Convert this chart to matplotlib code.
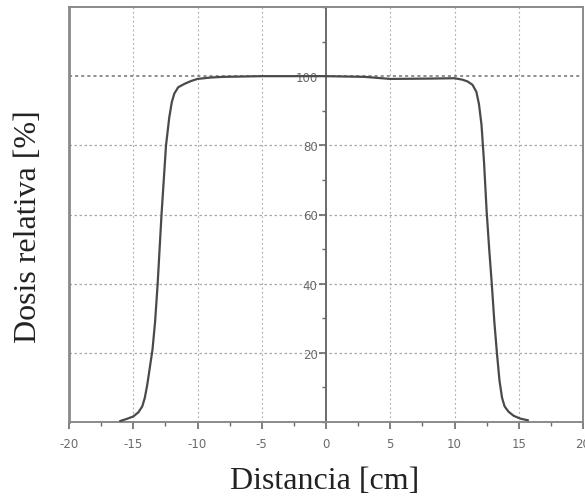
import numpy as np
import matplotlib.pyplot as plt
from matplotlib.ticker import MultipleLocator

# dose profile
distance_cm = [-16.0, -15.5, -15.0, -14.6, -14.3, -14.1, -13.9, -13.7, -13.5, -13.3,
               -13.1, -12.8, -12.45, -12.2, -12.0, -11.8, -11.5, -11.0, -10.5, -10.0,
               -9.0, -8.0, -5.0, 0.0, 3.0, 5.0, 8.0, 10.0, 10.6, 11.0,
               11.4, 11.7, 11.9, 12.1, 12.3, 12.5, 12.7, 12.9, 13.1, 13.3,
               13.5, 13.7, 13.9, 14.2, 14.6, 15.1, 15.7]
dose_pct = [0.3, 0.9, 1.6, 2.8, 4.5, 7.0, 11.0, 16.0, 21.0, 29.0,
            40.0, 60.0, 80.0, 88.0, 92.5, 95.0, 96.8, 97.8, 98.6, 99.2,
            99.6, 99.8, 100.0, 100.0, 99.8, 99.2, 99.3, 99.4, 99.0, 98.5,
            97.5, 95.5, 92.0, 86.0, 75.0, 61.0, 50.0, 40.0, 29.0, 20.0,
            12.0, 7.0, 4.5, 3.0, 1.8, 1.0, 0.5]

x_ticks = [-20, -15, -10, -5, 0, 5, 10, 15, 20]
y_ticks = [20, 40, 60, 80, 100]

SPINE = "#8a8a8a"
GRID = "#a8a8a8"
TXT = "#6a6a6a"

fig = plt.figure(figsize=(5.85, 5.02), dpi=100)
ax = fig.add_axes([69 / 585, 1 - 423 / 502, (583 - 69) / 585, (423 - 8) / 502])

ax.set_xlim(-20, 20)
ax.set_ylim(0, 120)

for xv in x_ticks[1:-1]:
    if xv != 0:
        ax.axvline(xv, color=GRID, lw=0.8, ls=(0, (1.5, 2.5)), zorder=1)
for yv in y_ticks:
    ax.axhline(yv, color=GRID if yv != 100 else "#707070", lw=0.9 if yv != 100 else 1.1,
               ls=(0, (2, 2)), zorder=1)

ax.plot(distance_cm, dose_pct, color="#4a4a4a", lw=1.6, zorder=3)

# box edges plus a centred y axis
ax.spines["left"].set_position(("data", 0))
ax.spines["left"].set_color("#6a6a6a")
ax.spines["left"].set_linewidth(1.4)
for side in ["top", "right", "bottom"]:
    ax.spines[side].set_color(SPINE)
    ax.spines[side].set_linewidth(1.4)
ax.axvline(-20, color=SPINE, lw=2.0, zorder=4, clip_on=False)

ax.set_xticks(x_ticks)
ax.set_xticklabels([str(v) for v in x_ticks])
ax.xaxis.set_minor_locator(MultipleLocator(2.5))
ax.set_yticks(y_ticks)
ax.yaxis.set_minor_locator(MultipleLocator(10))
ax.tick_params(axis="both", which="major", direction="out", length=5, width=1.2,
               color="#6a6a6a", labelcolor=TXT, labelsize=8.5)
ax.tick_params(axis="both", which="minor", direction="out", length=3, width=1.0, color="#6a6a6a")
ax.tick_params(axis="x", pad=6)
ax.tick_params(axis="y", pad=1)

serif = ["Liberation Serif", "DejaVu Serif"]
fig.text(0.048, 0.548, "Dosis relativa [%]", rotation=90, ha="center", va="center",
         fontsize=23, family=serif, color="#222222")
fig.text(0.555, 0.04, "Distancia [cm]", ha="center", va="center",
         fontsize=23, family=serif, color="#222222")

fig.savefig("out.png", dpi=100)
